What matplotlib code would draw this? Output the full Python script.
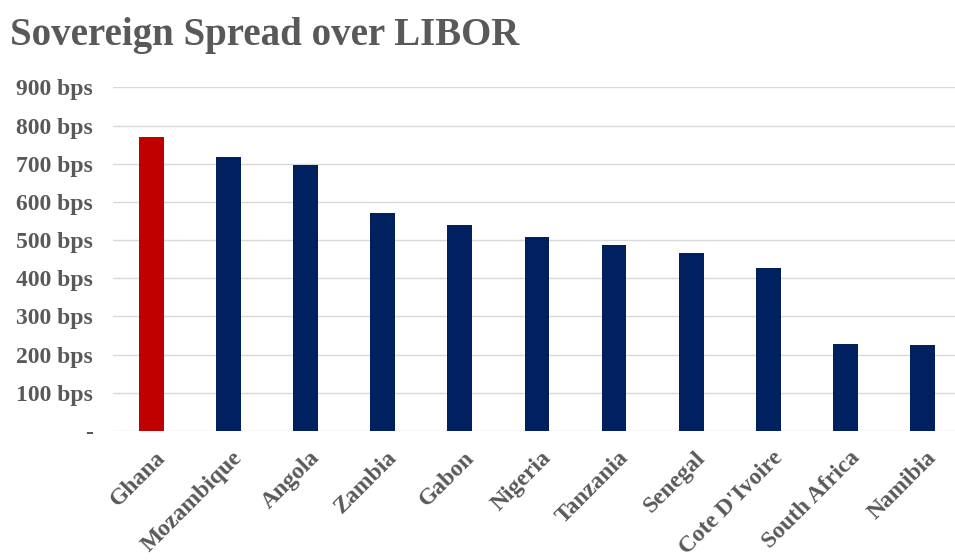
import matplotlib.pyplot as plt
from matplotlib.ticker import FixedLocator, FuncFormatter
from matplotlib.transforms import ScaledTranslation

countries = ["Ghana", "Mozambique", "Angola", "Zambia", "Gabon", "Nigeria",
             "Tanzania", "Senegal", "Cote D'Ivoire", "South Africa", "Namibia"]
spread_bps = [770, 718, 698, 570, 539, 507, 486, 465, 426, 227, 225]
highlight = "Ghana"

red = "#C00000"
navy = "#002060"
grey = "#595959"
serif = ["Liberation Serif", "DejaVu Serif"]

fig = plt.figure(figsize=(9.55, 5.6), dpi=100)
ax = fig.add_axes([0.118, 0.2304, 0.882, 0.6134])

colors = [red if c == highlight else navy for c in countries]
x = list(range(len(countries)))
ax.bar(x, spread_bps, width=0.32, color=colors, zorder=3)

ax.set_xlim(-0.5, 10.42)
ax.set_ylim(0, 900)
ax.yaxis.set_major_locator(FixedLocator(range(0, 901, 100)))
ax.yaxis.set_major_formatter(FuncFormatter(lambda v, p: "-" if v == 0 else f"{int(v)} bps"))
ax.grid(axis="y", color="#d9d9d9", linewidth=1, zorder=0)

for s in ax.spines.values():
    s.set_visible(False)
ax.tick_params(axis="both", length=0)
ax.tick_params(axis="y", pad=14)

ax.set_xticks(x)
ax.set_xticklabels(countries, rotation=45, ha="right", va="center",
                   rotation_mode="anchor")
ax.tick_params(axis="x", pad=17)

for lab in ax.get_yticklabels() + ax.get_xticklabels():
    lab.set_family(serif)
    lab.set_fontweight("bold")
    lab.set_fontsize(17)
    lab.set_color(grey)

# nudge the slanted country names a little to the right
shift = ScaledTranslation(8 / 72, 0, fig.dpi_scale_trans)
for lab in ax.get_xticklabels():
    lab.set_transform(lab.get_transform() + shift)

fig.text(0.010, 0.937, "Sovereign Spread over LIBOR", family=serif,
         fontweight="bold", fontsize=28, color=grey, va="center", ha="left")

fig.savefig("out.png", dpi=100)
